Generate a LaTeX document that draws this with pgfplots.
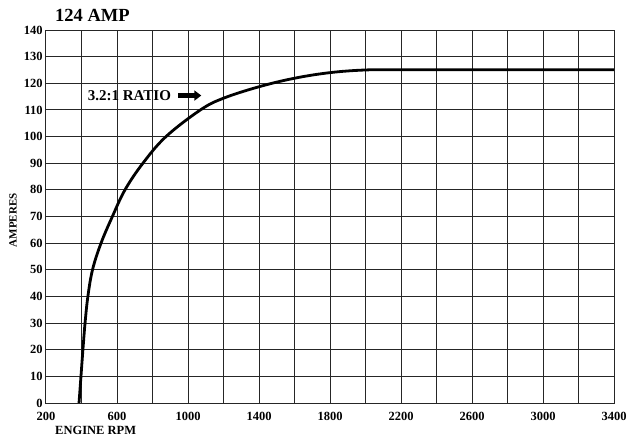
\documentclass[border=0pt]{standalone}
\usepackage{fontspec}
\setmainfont{Liberation Serif}
\usepackage{pgfplots}
\pgfplotsset{compat=1.18}
\usetikzlibrary{arrows.meta,calc}

\begin{document}
\begin{tikzpicture}
\path[use as bounding box] (0,0) rectangle (632pt,440pt);
\begin{axis}[
    at={(46pt,37pt)}, anchor=south west,
    scale only axis, width=568pt, height=373pt,
    xmin=200, xmax=3400, ymin=0, ymax=140,
    xtick={200,600,...,3400},
    minor xtick={400,800,...,3200},
    ytick={0,10,...,140},
    grid=both,
    major grid style={black!85, line width=1pt},
    minor grid style={black!85, line width=1pt},
    axis line style={black!85, line width=1pt},
    major tick length=0pt, minor tick length=0pt,
    tick label style={font=\fontsize{12.5}{14}\selectfont\bfseries, inner sep=0.5pt},
    /pgf/number format/assume math mode=true,
    /pgf/number format/set thousands separator={},
    xticklabel style={yshift=-8pt},
    yticklabel style={xshift=-2.7pt},
    ylabel={AMPERES},
    ylabel style={font=\fontsize{11}{13}\selectfont\bfseries,
        at={(axis description cs:-0.058,0.49)}, anchor=center},
    clip=false,
]
\addplot[black, line width=2.8pt, smooth, tension=0.6] coordinates {
(386,0)(397,10)(408,20)(420,30)(436,40)(462,50)(510,60)(574,70)(645,80)
(746,90)(876,100)(1070,110)(1200,114.4)
(1400,118.7)(1600,121.9)(1800,124)(2000,125)(2200,125.1)(2600,125.1)(3000,125.1)(3400,125.1)
};
\node[anchor=east, inner sep=0pt, font=\fontsize{15}{17}\selectfont\bfseries]
    at (axis cs:905,115.2) {3.2:1 RATIO};
\draw[black, line width=5pt, -{Triangle[length=7pt,width=10pt]}]
    (axis cs:944,115.4) -- (axis cs:1075,115.4);
\node[anchor=base west, inner sep=0pt, font=\fontsize{18.5}{21}\selectfont\bfseries]
    at ($(axis description cs:0,1)+(9pt,9pt)$) {124 AMP};
\node[anchor=north west, inner sep=0pt, font=\fontsize{12.5}{14}\selectfont\bfseries]
    at ($(axis description cs:0,0)+(9pt,-23pt)$) {ENGINE RPM};
\end{axis}
\end{tikzpicture}
\end{document}
